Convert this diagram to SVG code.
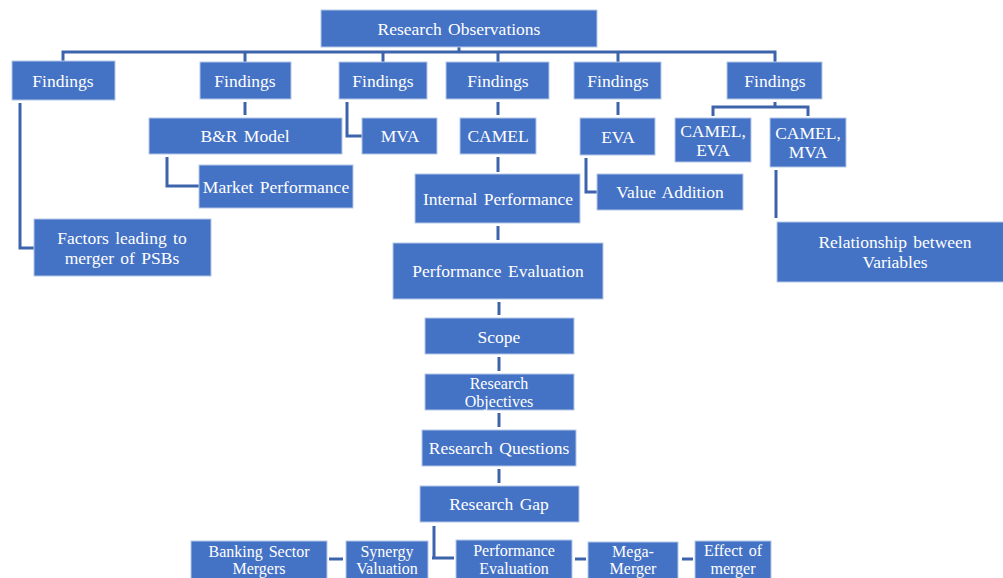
<svg xmlns="http://www.w3.org/2000/svg" width="1003" height="578" viewBox="0 0 1003 578">
<style>
.b{fill:#4472C4;stroke:#b4c7e7;stroke-width:1}
.t{font-family:"Liberation Serif","Times New Roman",serif;font-size:17.5px;fill:#ffffff;text-anchor:middle;dominant-baseline:central;word-spacing:2px}
.s{font-size:16px}
.c{fill:none;stroke:#3d63ab;stroke-width:3}
</style>
<rect width="1003" height="578" fill="#ffffff"/>
<g id="connectors">
<path class="c" d="M459,47 V52 M63,62 V52 H775 V62 M245,52 V62 M383,52 V62 M498,52 V62 M618,52 V62"/>
<path class="c" d="M20,103 V248 H34"/>
<path class="c" d="M245,102 V115"/>
<path class="c" d="M167,157 V186 H199"/>
<path class="c" d="M347,102 V136 H362"/>
<path class="c" d="M498,102 V115"/>
<path class="c" d="M498,157 V172"/>
<path class="c" d="M498,226 V240"/>
<path class="c" d="M499,302 V315"/>
<path class="c" d="M499,357 V371"/>
<path class="c" d="M499,413 V427"/>
<path class="c" d="M499,469 V483"/>
<path class="c" d="M434,526 V558 M432,558 H454"/>
<path class="c" d="M618,102 V115"/>
<path class="c" d="M586,158 V192 H597"/>
<path class="c" d="M775,102 V107 M713,116 V107 H808 V116"/>
<path class="c" d="M776,170 V218"/>
<path class="c" d="M329,559 H343 M575,559 H586 M682,559 H693"/>
</g>
<g id="research-observations"><rect class="b" x="321" y="10" width="276" height="37"/><text class="t" x="459" y="29">Research Observations</text></g>
<g id="findings-1"><rect class="b" x="12" y="61" width="103" height="39"/><text class="t" x="63" y="81">Findings</text></g>
<g id="findings-2"><rect class="b" x="200" y="62" width="91" height="37"/><text class="t" x="245" y="81">Findings</text></g>
<g id="findings-3"><rect class="b" x="339" y="62" width="88" height="37"/><text class="t" x="383" y="81">Findings</text></g>
<g id="findings-4"><rect class="b" x="446" y="62" width="103" height="37"/><text class="t" x="498" y="81">Findings</text></g>
<g id="findings-5"><rect class="b" x="574" y="62" width="87" height="37"/><text class="t" x="618" y="81">Findings</text></g>
<g id="findings-6"><rect class="b" x="727" y="62" width="95" height="37"/><text class="t" x="775" y="81">Findings</text></g>
<g id="br-model"><rect class="b" x="149" y="118" width="193" height="36"/><text class="t" x="245" y="136">B&amp;R Model</text></g>
<g id="mva"><rect class="b" x="362" y="118" width="75" height="36"/><text class="t" x="400" y="136">MVA</text></g>
<g id="camel"><rect class="b" x="460" y="118" width="76" height="36"/><text class="t" x="498" y="136">CAMEL</text></g>
<g id="eva"><rect class="b" x="580" y="118" width="75" height="37"/><text class="t" x="618" y="137">EVA</text></g>
<g id="camel-eva"><rect class="b" x="675" y="118" width="76" height="44"/><text class="t" x="713" y="131">CAMEL,</text><text class="t" x="713" y="150">EVA</text></g>
<g id="camel-mva"><rect class="b" x="770" y="118" width="76" height="49"/><text class="t" x="808" y="133">CAMEL,</text><text class="t" x="808" y="152">MVA</text></g>
<g id="market-performance"><rect class="b" x="199" y="165" width="154" height="43"/><text class="t" x="276" y="187">Market Performance</text></g>
<g id="factors"><rect class="b" x="34" y="219" width="177" height="57"/><text class="t" x="122" y="238">Factors leading to</text><text class="t" x="122" y="258">merger of PSBs</text></g>
<g id="internal-performance"><rect class="b" x="415" y="174" width="165" height="49"/><text class="t" x="498" y="199">Internal Performance</text></g>
<g id="value-addition"><rect class="b" x="597" y="174" width="146" height="36"/><text class="t" x="670" y="192">Value Addition</text></g>
<g id="relationship"><rect class="b" x="777" y="222" width="228" height="60"/><text class="t" x="895" y="242">Relationship between</text><text class="t" x="895" y="262">Variables</text></g>
<g id="performance-evaluation"><rect class="b" x="393" y="243" width="210" height="56"/><text class="t" x="498" y="271">Performance Evaluation</text></g>
<g id="scope"><rect class="b" x="425" y="318" width="149" height="36"/><text class="t" x="499" y="337">Scope</text></g>
<g id="research-objectives"><rect class="b" x="425" y="374" width="149" height="36"/><text class="t s" x="499" y="383">Research</text><text class="t s" x="499" y="401">Objectives</text></g>
<g id="research-questions"><rect class="b" x="422" y="430" width="154" height="36"/><text class="t" x="499" y="448">Research Questions</text></g>
<g id="research-gap"><rect class="b" x="420" y="486" width="159" height="36"/><text class="t" x="499" y="504">Research Gap</text></g>
<g id="banking-sector-mergers"><rect class="b" x="191" y="541" width="136" height="40"/><text class="t s" x="259" y="551">Banking Sector</text><text class="t s" x="259" y="568">Mergers</text></g>
<g id="synergy-valuation"><rect class="b" x="346" y="541" width="82" height="40"/><text class="t s" x="387" y="551">Synergy</text><text class="t s" x="387" y="568">Valuation</text></g>
<g id="performance-evaluation-2"><rect class="b" x="456" y="540" width="116" height="41"/><text class="t s" x="514" y="550">Performance</text><text class="t s" x="514" y="568">Evaluation</text></g>
<g id="mega-merger"><rect class="b" x="588" y="542" width="90" height="39"/><text class="t s" x="633" y="551">Mega-</text><text class="t s" x="633" y="568">Merger</text></g>
<g id="effect-of-merger"><rect class="b" x="695" y="541" width="76" height="40"/><text class="t s" x="733" y="550">Effect of</text><text class="t s" x="733" y="568">merger</text></g>
</svg>
